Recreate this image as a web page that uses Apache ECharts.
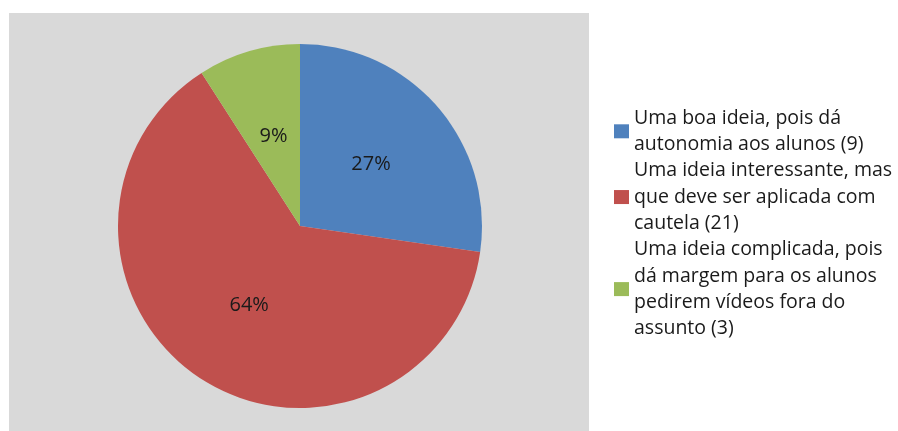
<!DOCTYPE html>
<html>
<head>
<meta charset="utf-8">
<script src="https://cdn.jsdelivr.net/npm/echarts@6/dist/echarts.min.js"></script>
<style>
  html, body { margin: 0; padding: 0; background: #ffffff; }
  #chart { width: 898px; height: 431px; }
</style>
</head>
<body>
<div id="chart"></div>
<script>
// Survey answers and their counts
const categories = [
  'Uma boa ideia, pois dá\nautonomia aos alunos (9)',
  'Uma ideia interessante, mas\nque deve ser aplicada com\ncautela (21)',
  'Uma ideia complicada, pois\ndá margem para os alunos\npedirem vídeos fora do\nassunto (3)'
];
const counts = [9, 21, 3];
const sliceColors = ['#4f81bd', '#c0504d', '#9bbb59'];

const FONT = '"Open Sans", "Noto Sans", sans-serif';

const chart = echarts.init(document.getElementById('chart'), null, { renderer: 'canvas' });

chart.setOption({
  animation: false,
  backgroundColor: '#ffffff',
  color: sliceColors,
  graphic: [{
    type: 'rect',
    z: -10,
    silent: true,
    shape: { x: 9, y: 13, width: 580, height: 430 },
    style: { fill: '#d9d9d9' }
  }],
  legend: {
    orient: 'vertical',
    left: 614,
    top: 105,
    padding: 0,
    itemGap: 0,
    itemWidth: 15,
    itemHeight: 14,
    icon: 'rect',
    textStyle: {
      fontFamily: FONT,
      fontSize: 19.5,
      lineHeight: 26.3,
      color: '#1a1a1a',
      padding: [0, 0, 0, 0]
    },
    data: categories
  },
  series: [{
    type: 'pie',
    center: [300, 226],
    radius: 182,
    startAngle: 90,
    clockwise: true,
    label: {
      position: 'inside',
      fontFamily: FONT,
      fontSize: 20,
      color: '#1a1a1a',
      formatter: p => Math.round(p.percent) + '%'
    },
    labelLine: { show: false },
    emphasis: { disabled: true },
    data: categories.map((name, i) => ({ name, value: counts[i] }))
  }]
});
</script>
</body>
</html>
